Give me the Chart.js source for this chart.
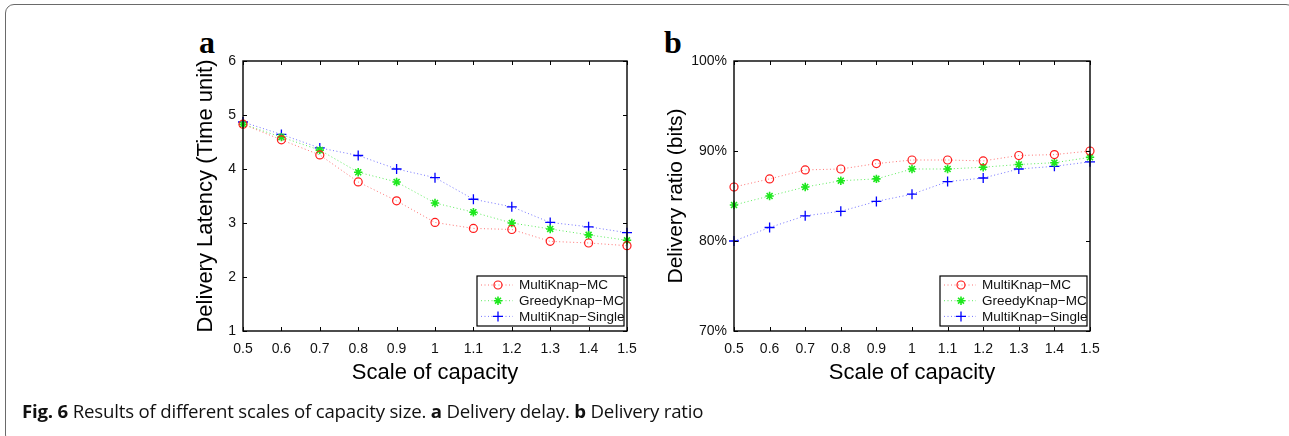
<!DOCTYPE html>
<html>
<head>
<meta charset="utf-8">
<script src="https://cdn.jsdelivr.net/npm/chart.js@4.4.1/dist/chart.umd.min.js"></script>
<style>
  html, body { margin: 0; padding: 0; background: #fff; }
  body { width: 1289px; height: 436px; position: relative; overflow: hidden; }
  #frame { position: absolute; left: 5px; top: 4px; width: 1290px; height: 440px;
           border: 1.3px solid #6a6a6a; border-radius: 9px; box-sizing: border-box; }
  .panel { position: absolute; top: 0; width: 460px; height: 400px; }
  .tag { position: absolute; font-family: "Liberation Serif", "DejaVu Serif", serif; font-weight: bold;
         font-size: 32px; line-height: 1; color: #000; }
  #caption { position: absolute; left: 22px; top: 398px; font-family: "Open Sans", "Noto Sans", sans-serif;
             font-size: 18.65px; line-height: 25px; color: #111; white-space: nowrap; letter-spacing: -0.2px; }
</style>
</head>
<body>
<div id="frame"></div>
<div class="tag" style="left:199px; top:26px;">a</div>
<div class="tag" style="left:664px; top:26px;">b</div>
<div class="panel" style="left:180px;"><canvas id="chartA" width="460" height="400"></canvas></div>
<div class="panel" style="left:650px;"><canvas id="chartB" width="460" height="400"></canvas></div>
<div id="caption"><b>Fig. 6</b> Results of different scales of capacity size. <b>a</b> Delivery delay. <b>b</b> Delivery ratio</div>
<script>
// ---- data ----
const categories = ['0.5','0.6','0.7','0.8','0.9','1','1.1','1.2','1.3','1.4','1.5'];
const seriesNames = ['MultiKnap\u2212MC', 'GreedyKnap\u2212MC', 'MultiKnap\u2212Single'];

const latencyMultiKnapMC     = [4.83, 4.54, 4.26, 3.76, 3.41, 3.01, 2.90, 2.88, 2.66, 2.63, 2.58];
const latencyGreedyKnapMC    = [4.83, 4.59, 4.35, 3.94, 3.76, 3.37, 3.20, 3.00, 2.89, 2.78, 2.68];
const latencyMultiKnapSingle = [4.87, 4.64, 4.39, 4.25, 4.00, 3.84, 3.44, 3.30, 3.01, 2.93, 2.82];

const ratioMultiKnapMC     = [86.0, 86.9, 87.9, 88.0, 88.6, 89.0, 89.0, 88.9, 89.5, 89.6, 90.0];
const ratioGreedyKnapMC    = [84.0, 85.0, 86.0, 86.7, 86.9, 88.0, 88.0, 88.2, 88.5, 88.7, 89.3];
const ratioMultiKnapSingle = [80.0, 81.5, 82.8, 83.3, 84.4, 85.2, 86.6, 87.0, 88.0, 88.3, 88.8];

const latencyTicks = { min: 1, max: 6, step: 1 };
const ratioTicks = { min: 70, max: 100, step: 10 };

// ---- styles ----
const styles = [
  { line: 'rgba(255,70,70,0.75)', point: '#ff1a1a', pointStyle: 'circle', radius: 4, pw: 1.2, fill: 'rgba(255,255,255,0)' },
  { line: 'rgba(40,230,40,0.75)', point: '#1ee81e', pointStyle: 'star', radius: 4.2, pw: 1.6, fill: '#1ee81e' },
  { line: 'rgba(70,70,255,0.75)', point: '#0000ff', pointStyle: 'cross', radius: 5, pw: 1.3, fill: '#0000ff' }
];
const FONT = '"Liberation Sans", Arial, Helvetica, sans-serif';

function makeDatasets(arrs) {
  return arrs.map((d, i) => ({
    label: seriesNames[i],
    data: d,
    borderColor: styles[i].line,
    borderWidth: 1,
    borderDash: [1, 2.5],
    pointStyle: styles[i].pointStyle,
    pointRadius: styles[i].radius,
    pointHoverRadius: styles[i].radius,
    pointBorderColor: styles[i].point,
    pointBackgroundColor: styles[i].fill,
    pointBorderWidth: styles[i].pw,
    tension: 0,
    fill: false,
    clip: false
  }));
}

// box, inside ticks and legend
const framePlugin = {
  id: 'framePlugin',
  afterDatasetsDraw(chart) {
    const ctx = chart.ctx, a = chart.chartArea;
    const xs = chart.scales.x, ys = chart.scales.y;
    ctx.save();
    ctx.strokeStyle = '#000';
    ctx.lineWidth = 1;
    ctx.beginPath();
    const tl = 4;
    xs.ticks.forEach((t, i) => {
      const px = Math.round(xs.getPixelForTick(i)) + 0.5;
      ctx.moveTo(px, a.bottom); ctx.lineTo(px, a.bottom - tl);
      ctx.moveTo(px, a.top); ctx.lineTo(px, a.top + tl);
    });
    ys.ticks.forEach((t, i) => {
      const py = Math.round(ys.getPixelForTick(i)) + 0.5;
      ctx.moveTo(a.left, py); ctx.lineTo(a.left + tl, py);
      ctx.moveTo(a.right, py); ctx.lineTo(a.right - tl, py);
    });
    ctx.stroke();
    ctx.lineWidth = 1.4;
    ctx.strokeRect(a.left, a.top, a.right - a.left, a.bottom - a.top);

    // legend (bottom-right inside plot)
    const lw = 147, lh = 50;
    const lx = a.right - 3 - lw, ly = a.bottom - 5 - lh;
    ctx.fillStyle = '#fff';
    ctx.fillRect(lx, ly, lw, lh);
    ctx.lineWidth = 1.2;
    ctx.strokeStyle = '#000';
    ctx.strokeRect(lx, ly, lw, lh);
    chart.data.datasets.forEach((ds, i) => {
      const cy = ly + 9 + i * 15.7;
      ctx.save();
      ctx.strokeStyle = ds.borderColor;
      ctx.lineWidth = 1;
      ctx.setLineDash([1, 2.5]);
      ctx.beginPath();
      ctx.moveTo(lx + 4, cy); ctx.lineTo(lx + 36, cy);
      ctx.stroke();
      ctx.restore();
      ctx.save();
      ctx.strokeStyle = ds.pointBorderColor;
      ctx.fillStyle = ds.pointBackgroundColor;
      ctx.lineWidth = ds.pointBorderWidth;
      ctx.setLineDash([]);
      Chart.helpers.drawPoint(ctx, { pointStyle: ds.pointStyle, radius: ds.pointRadius, borderWidth: ds.pointBorderWidth, rotation: 0 }, lx + 21, cy);
      ctx.restore();
      ctx.fillStyle = '#111';
      ctx.font = '13.5px ' + FONT;
      ctx.textBaseline = 'middle';
      ctx.textAlign = 'left';
      ctx.fillText(ds.label, lx + 42, cy + 0.5);
    });
    ctx.restore();
  }
};

function makeChart(id, arrs, yt, yTitle, yTitleSize, yWidth, padRight, yFmt) {
  const half = yTitleSize * 1.2 / 2;
  return new Chart(document.getElementById(id), {
    type: 'line',
    data: { labels: categories, datasets: makeDatasets(arrs) },
    plugins: [framePlugin],
    options: {
      responsive: false,
      animation: false,
      events: [],
      layout: { padding: { top: 61, right: padRight, left: 0, bottom: 0 } },
      plugins: { legend: { display: false }, tooltip: { enabled: false } },
      scales: {
        x: {
          type: 'category',
          offset: false,
          grid: { display: false, drawTicks: false },
          border: { display: false },
          ticks: { color: '#111', font: { family: FONT, size: 14 }, padding: 10, maxRotation: 0, autoSkip: false },
          title: { display: true, text: 'Scale of capacity', color: '#000', font: { family: FONT, size: 22 }, padding: { top: 0, bottom: 13.8 } },
          afterFit(s) { s.height = 69; s.paddingLeft = 0; s.paddingRight = 0; }
        },
        y: {
          type: 'linear',
          min: yt.min, max: yt.max,
          grid: { display: false, drawTicks: false },
          border: { display: false },
          ticks: { stepSize: yt.step, color: '#111', font: { family: FONT, size: 14 }, padding: 7, callback: yFmt },
          title: { display: true, text: yTitle, color: '#000', font: { family: FONT, size: yTitleSize }, padding: { top: 26 - half, bottom: 0 } },
          afterFit(s) { s.width = yWidth; s.paddingTop = 0; s.paddingBottom = 0; }
        }
      }
    }
  });
}

makeChart('chartA', [latencyMultiKnapMC, latencyGreedyKnapMC, latencyMultiKnapSingle], latencyTicks,
  'Delivery Latency (Time unit)', 22, 63, 13, v => String(v));
makeChart('chartB', [ratioMultiKnapMC, ratioGreedyKnapMC, ratioMultiKnapSingle], ratioTicks,
  'Delivery ratio (bits)', 21, 84, 20, v => v + '%');
</script>
</body>
</html>
